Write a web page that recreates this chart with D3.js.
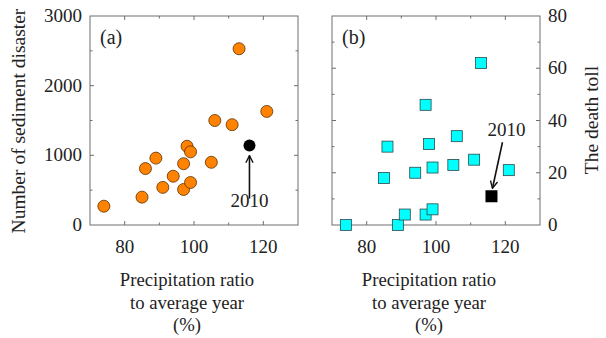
<!DOCTYPE html>
<html>
<head>
<meta charset="utf-8">
<script src="https://d3js.org/d3.v7.min.js"></script>
<style>
  body { margin: 0; background: #fff; }
  text { font-family: "Liberation Serif", "DejaVu Serif", serif; fill: #222; }
</style>
</head>
<body>
<svg id="chart" width="606" height="338"></svg>
<script>
// precipitation ratio to average year (%), one entry per year
var ratio    = [74, 85, 86, 89, 91, 94, 97, 97, 98, 99, 99, 105, 106, 111, 113, 121];
// (a) number of sediment disasters for the same years
var disaster = [270, 400, 810, 960, 540, 700, 880, 510, 1130, 1050, 610, 900, 1500, 1440, 2530, 1630];

// (b) death toll, read separately (points don't pair 1:1 with panel a order)
var ratioB = [74, 85, 86, 89, 91, 94, 97, 97, 98, 99, 99, 105, 106, 111, 113, 121];
var deaths = [0, 18, 30, 0, 4, 20, 46, 4, 31, 22, 6, 23, 34, 25, 62, 21];

// the 2010 point
var ratio2010 = 116, disaster2010 = 1140, deaths2010 = 11;

var xTicks = [80, 100, 120];
var yTicksA = [0, 1000, 2000, 3000];
var yTicksB = [0, 20, 40, 60, 80];

var svg = d3.select("#chart");
var yTop = 16, yBottom = 225;
var frame = "#6e6e6e";

function panel(left, right, yMax, yMajor, yMinorStep, labelSide) {
  var x = d3.scaleLinear().domain([70, 130]).range([left, right]);
  var y = d3.scaleLinear().domain([0, yMax]).range([yBottom, yTop]);
  var g = svg.append("g");

  g.append("rect")
    .attr("x", left).attr("y", yTop)
    .attr("width", right - left).attr("height", yBottom - yTop)
    .attr("fill", "none").attr("stroke", frame).attr("stroke-width", 1);

  // inward ticks on all four sides
  d3.range(80, 130, 10).forEach(function(v) {
    var len = (v % 20 === 0) ? 4 : 2.5;
    g.append("line").attr("x1", x(v)).attr("x2", x(v)).attr("y1", yBottom).attr("y2", yBottom - len).attr("stroke", frame);
    g.append("line").attr("x1", x(v)).attr("x2", x(v)).attr("y1", yTop).attr("y2", yTop + len).attr("stroke", frame);
  });
  d3.range(yMinorStep, yMax, yMinorStep).forEach(function(v) {
    var len = (yMajor.indexOf(v) >= 0) ? 4 : 2.5;
    g.append("line").attr("x1", left).attr("x2", left + len).attr("y1", y(v)).attr("y2", y(v)).attr("stroke", frame);
    g.append("line").attr("x1", right).attr("x2", right - len).attr("y1", y(v)).attr("y2", y(v)).attr("stroke", frame);
  });

  g.selectAll(".xl").data(xTicks).enter().append("text")
    .attr("x", function(d) { return x(d); })
    .attr("y", 253)
    .attr("text-anchor", "middle")
    .attr("font-size", 19)
    .text(function(d) { return d; });

  g.selectAll(".yl").data(yMajor).enter().append("text")
    .attr("x", labelSide === "left" ? left - 8 : right + 8)
    .attr("y", function(d) { return y(d) + 6; })
    .attr("text-anchor", labelSide === "left" ? "end" : "start")
    .attr("font-size", 19)
    .text(function(d) { return d; });

  // x title, three lines
  var cx = (left + right) / 2 - 7;
  ["Precipitation ratio", "to average year", "(%)"].forEach(function(s, i) {
    g.append("text")
      .attr("x", cx).attr("y", 286 + i * 22.5)
      .attr("text-anchor", "middle")
      .attr("font-size", 18.7)
      .text(s);
  });

  return { x: x, y: y, g: g };
}

// ---- panel (a)
var a = panel(90, 298, 3000, yTicksA, 500, "left");

a.g.selectAll(".pt").data(ratio).enter().append("circle")
  .attr("cx", function(d) { return a.x(d); })
  .attr("cy", function(d, i) { return a.y(disaster[i]); })
  .attr("r", 6)
  .attr("fill", "#ff8200")
  .attr("stroke", "#5a3000")
  .attr("stroke-width", 0.8);

a.g.append("circle")
  .attr("cx", a.x(ratio2010)).attr("cy", a.y(disaster2010))
  .attr("r", 6).attr("fill", "#000");

a.g.append("text").attr("x", 100).attr("y", 44).attr("font-size", 20).text("(a)");

// ---- panel (b)
var b = panel(332, 540, 80, yTicksB, 10, "right");

b.g.selectAll(".pt").data(ratioB).enter().append("rect")
  .attr("x", function(d) { return b.x(d) - 5.5; })
  .attr("y", function(d, i) { return b.y(deaths[i]) - 5.5; })
  .attr("width", 11).attr("height", 11)
  .attr("fill", "#00ffff")
  .attr("stroke", "#2a4a4a")
  .attr("stroke-width", 0.8);

b.g.append("rect")
  .attr("x", b.x(ratio2010) - 6).attr("y", b.y(deaths2010) - 6)
  .attr("width", 12).attr("height", 12).attr("fill", "#000");

b.g.append("text").attr("x", 342).attr("y", 44).attr("font-size", 20).text("(b)");

// arrows for 2010
svg.append("defs").append("marker")
  .attr("id", "head").attr("viewBox", "0 0 10 10")
  .attr("refX", 9).attr("refY", 5)
  .attr("markerWidth", 9).attr("markerHeight", 9)
  .attr("markerUnits", "userSpaceOnUse")
  .attr("orient", "auto-start-reverse")
  .append("path").attr("d", "M1,1 L9,5 L1,9")
  .attr("fill", "none").attr("stroke", "#111").attr("stroke-width", 1.5);

var ax = a.x(ratio2010), ay = a.y(disaster2010);
svg.append("line")
  .attr("x1", ax).attr("y1", ay + 53).attr("x2", ax).attr("y2", ay + 10)
  .attr("stroke", "#111").attr("stroke-width", 1.6).attr("marker-end", "url(#head)");
svg.append("text").attr("x", ax).attr("y", ay + 61).attr("text-anchor", "middle")
  .attr("font-size", 19).text("2010");

var bx = b.x(ratio2010), by = b.y(deaths2010);
svg.append("line")
  .attr("x1", bx + 11).attr("y1", by - 54).attr("x2", bx + 1).attr("y2", by - 8)
  .attr("stroke", "#111").attr("stroke-width", 1.6).attr("marker-end", "url(#head)");
svg.append("text").attr("x", bx + 15).attr("y", by - 60).attr("text-anchor", "middle")
  .attr("font-size", 19).text("2010");

// y titles
svg.append("text")
  .attr("transform", "translate(25,121) rotate(-90)")
  .attr("text-anchor", "middle").attr("font-size", 19.5)
  .text("Number of sediment disaster");
svg.append("text")
  .attr("transform", "translate(598,120) rotate(-90)")
  .attr("text-anchor", "middle").attr("font-size", 19.5)
  .text("The death toll");
</script>
</body>
</html>
